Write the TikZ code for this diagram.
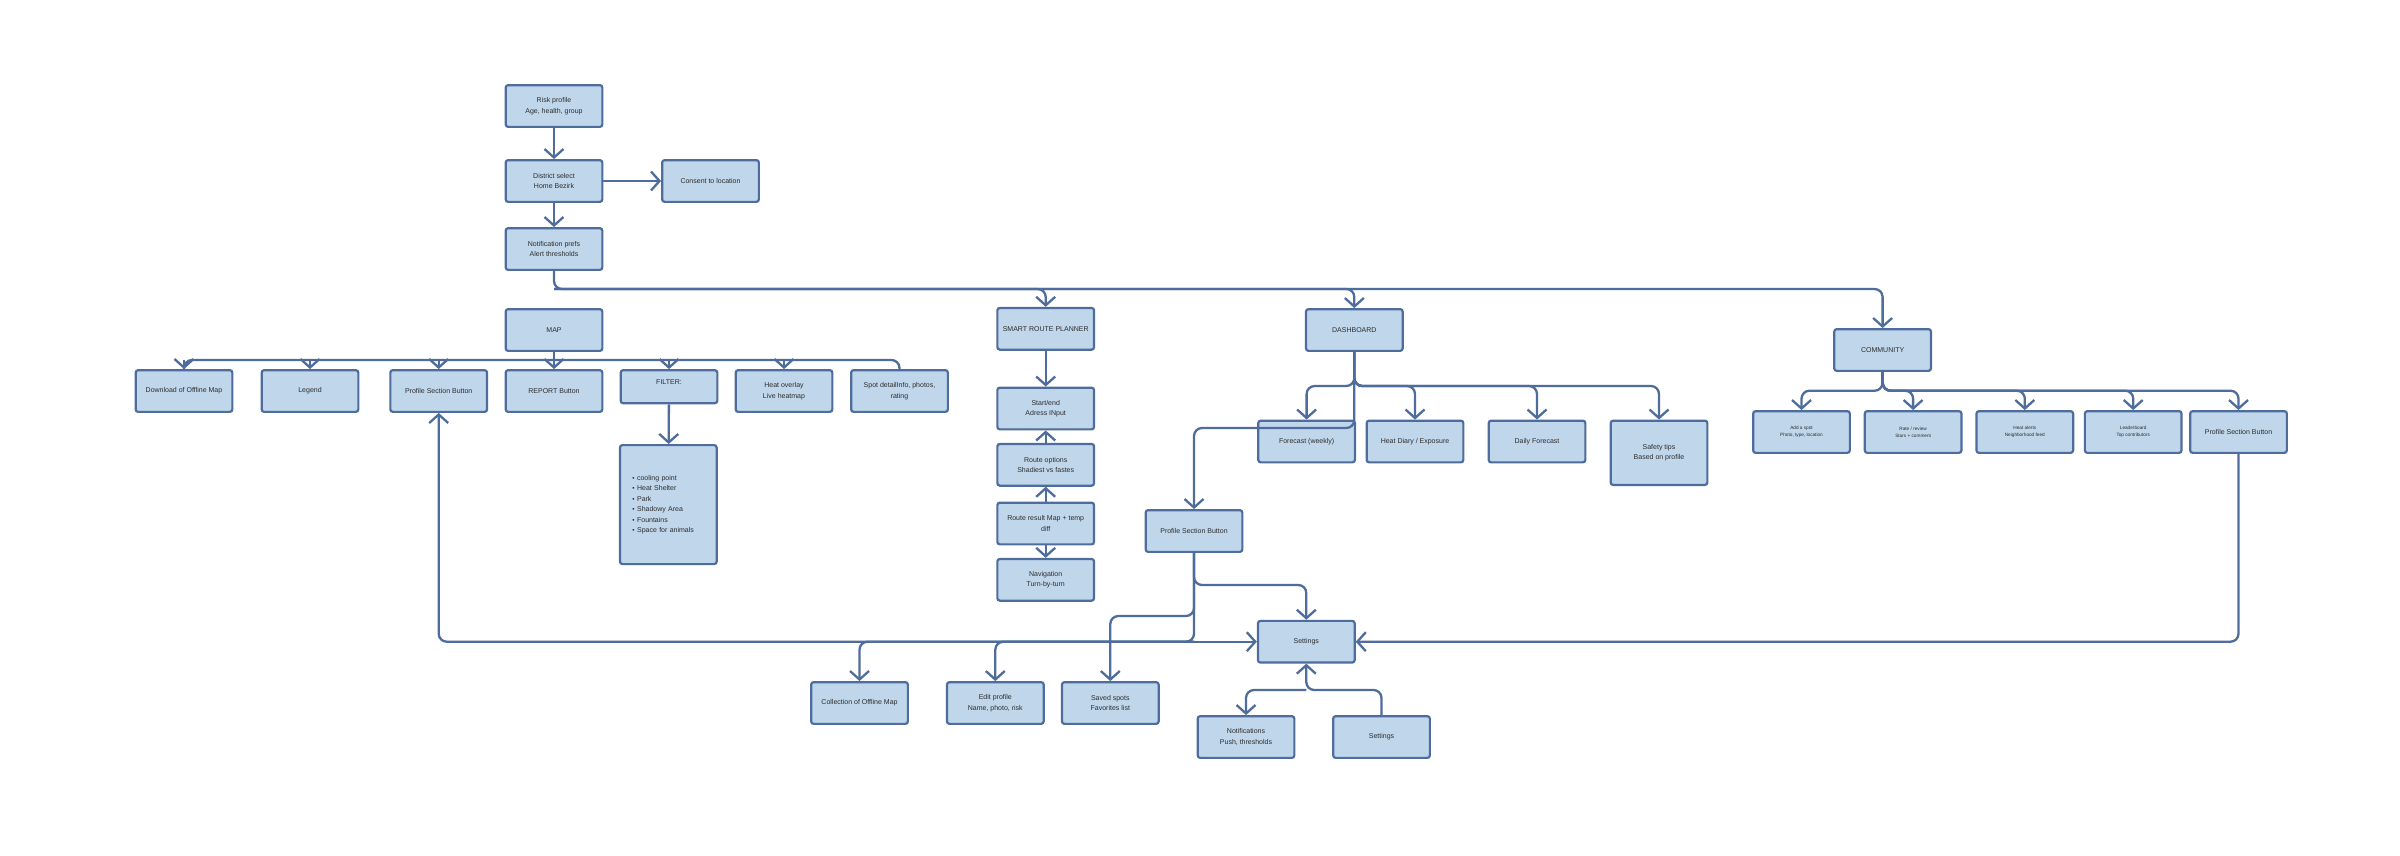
\documentclass[tikz,border=0pt]{standalone}
\usepackage{fontspec}
\setmainfont{Liberation Sans}
\usepackage{tikz}
\usetikzlibrary{positioning}
\usetikzlibrary{arrows.meta}
\definecolor{boxblue}{RGB}{191,214,235}
\definecolor{lineblue}{RGB}{78,108,156}
\definecolor{textgray}{RGB}{45,45,45}
\newcommand{\listdot}{{\fontsize{6.5}{6.5}\selectfont\textbullet}\hspace{2.5pt}}
\tikzset{node distance=115pt,
    box/.style={
        draw=lineblue,
        fill=boxblue,
        line width=2.2pt,
        rounded corners=2.5pt,
        minimum width=96.7pt,
        minimum height=41.7pt,
        inner sep=2pt,
        align=center,
        text=textgray,
        font=\fontsize{7}{10.5}\selectfont},
    small/.style={font=\fontsize{4.7}{7}\selectfont},
    link/.style={
        draw=lineblue,
        line width=2.3pt,
        rounded corners=8pt},
    flow/.style={
        link,
        ->,>={Straight Barb[length=8.5pt,width=19pt]}}}

\begin{document}
\begin{tikzpicture}[x=1pt,y=-1pt]
        \useasboundingbox (0,0) rectangle (2400,855);

        % onboarding
        \node[box] (risk) at (554,106) {Risk profile\\Age, health, group};
        \node[box, below of=risk, node distance=75pt] (district) {District select\\Home Bezirk};
        \node[box, right of=district, node distance=156.5pt] (consent) {Consent to location};
        \node[box, below of=district, node distance=68pt] (notif) {Notification prefs\\Alert thresholds};

        % map
        \node[box] (map) at (554,330) {MAP};
        \node[box, below of=map, node distance=61pt] (report) {REPORT Button};
        \node[box, left of=report, node distance=115.3pt] (profmap) {Profile Section Button};
        \node[box, left of=profmap, node distance=128.7pt] (legend) {Legend};
        \node[box, left of=legend, node distance=126pt] (download) {Download of Offline Map};
        \node[box, minimum height=33pt, inner ysep=5pt, text height=9pt, text depth=14pt] (filter) at (669,386.7) {FILTER:};
        \node[box, right of=report, node distance=230pt] (heat) {Heat overlay\\Live heatmap};
        \node[box, right of=heat, node distance=115.5pt] (spot) {Spot detailInfo, photos,\\rating};
        \node[box, minimum height=119pt, text width=72pt, inner xsep=12.35pt, align=left] (filterlist) at (668.3,504.6)
            {\listdot cooling point\\\listdot Heat Shelter\\\listdot Park\\\listdot Shadowy Area\\\listdot Fountains\\\listdot Space for animals};

        % route planner
        \node[box] (srp) at (1045.7,328.8) {SMART ROUTE PLANNER};
        \node[box, below of=srp, node distance=79.7pt] (start) {Start/end\\Adress INput};
        \node[box, below of=start, node distance=56.3pt] (options) {Route options\\Shadiest vs fastes};
        \node[box, below of=options, node distance=58.7pt] (result) {Route result Map + temp\\diff};
        \node[box, below of=result, node distance=56.3pt] (nav) {Navigation\\Turn-by-turn};

        % dashboard
        \node[box] (dash) at (1354.3,330) {DASHBOARD};
        \node[box] (fcw) at (1306.6,441.5) {Forecast (weekly)};
        \node[box, right of=fcw, node distance=108.4pt] (diary) {Heat Diary / Exposure};
        \node[box, right of=diary, node distance=122pt] (daily) {Daily Forecast};
        \node[box, minimum height=64.3pt] (safety) at (1659,452.8) {Safety tips\\Based on profile};
        \node[box] (profdash) at (1194,531) {Profile Section Button};

        % community
        \node[box] (comm) at (1882.6,350) {COMMUNITY};
        \node[box, small] (addspot) at (1801.5,432) {Add a spot\\Photo, type, location};
        \node[box, small, right of=addspot, node distance=111.6pt] (rate) {Rate / review\\Stars + comment};
        \node[box, small, right of=rate, node distance=111.7pt] (alerts) {Heat alerts\\Neighborhood feed};
        \node[box, small, right of=alerts, node distance=108.4pt] (leader) {Leaderboard\\Top contributors};
        \node[box, right of=leader, node distance=105.3pt] (profcomm) {Profile Section Button};

        % profile and settings
        \node[box] (settings) at (1306.3,641.7) {Settings};
        \node[box] (collection) at (859.5,703) {Collection of Offline Map};
        \node[box, right of=collection, node distance=135.8pt] (edit) {Edit profile\\Name, photo, risk};
        \node[box, right of=edit, node distance=115pt] (saved) {Saved spots\\Favorites list};
        \node[box] (notifs) at (1246,737) {Notifications\\Push, thresholds};
        \node[box, right of=notifs, node distance=135.5pt] (settings2) {Settings};

        \coordinate (tbus) at (554,289);
        \coordinate (mbus) at (554,360);
        \coordinate (dbus) at (1354.3,386);
        \coordinate (dprof) at (1354.3,428);
        \coordinate (cbus) at (1882.6,390.7);
        \coordinate (sbr) at (1194,585);
        \coordinate (svbr) at (1194,616);
        \coordinate (bbus) at (1194,641.7);
        \coordinate (sjn) at (1306.3,690);

        \draw[flow] (risk) -- (district);
        \draw[flow] (district) -- (consent);
        \draw[flow] (district) -- (notif);
        \draw[flow] (notif.south) -- (tbus) -| (comm.north);
        \draw[flow] (tbus) -| (srp.north);
        \draw[flow] (tbus) -| (dash.north);

        \draw[link] (map.south) -- (mbus);
        \draw[link] (download.north) |- (mbus) -| (spot.north);
        \foreach \n in {download,legend,profmap,report,filter,heat}
            \draw[flow] (\n.north |- mbus) -- (\n.north);
        \draw[flow] (filter) -- (filterlist);

        \draw[flow] (srp) -- (start);
        \draw[flow] (options) -- (start);
        \draw[flow] (result) -- (options);
        \draw[flow] (result) -- (nav);

        \foreach \n in {fcw,diary,daily,safety}
            \draw[flow] (dash.south) -- (dbus) -| (\n.north);
        \draw[flow] (dash.south) -- (dprof) -| (profdash.north);

        \foreach \n in {addspot,rate,alerts,leader,profcomm}
            \draw[flow] (comm.south) -- (cbus) -| (\n.north);

        \draw[flow] (profdash.south) -- (bbus) -| (profmap.south);
        \draw[flow] (bbus) -- (settings.west);
        \draw[flow] (bbus) -| (collection.north);
        \draw[flow] (bbus) -| (edit.north);
        \draw[flow] (profdash.south) -- (sbr) -| (settings.north);
        \draw[flow] (profdash.south) -- (svbr) -| (saved.north);
        \draw[flow] (profcomm.south) |- (settings.east);
        \draw[flow] (settings2.north) |- (sjn) -- (settings.south);
        \draw[flow] (sjn) -| (notifs.north);
    \end{tikzpicture}
\end{document}
